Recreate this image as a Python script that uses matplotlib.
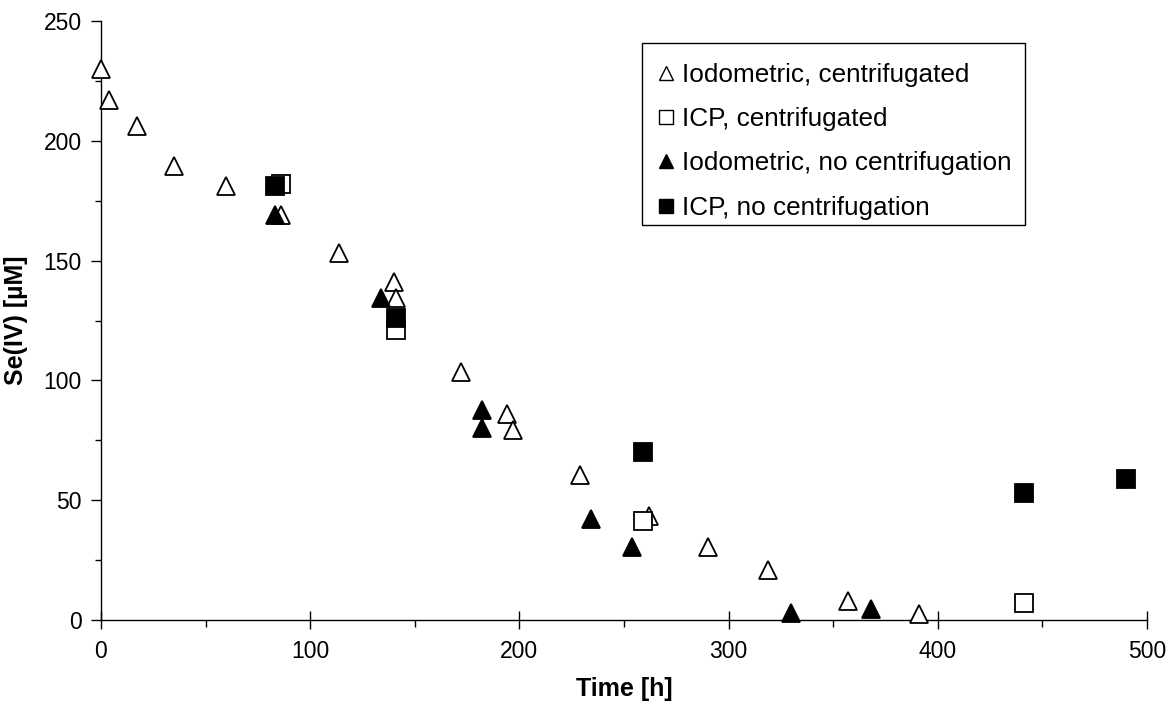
import matplotlib.pyplot as plt
from matplotlib.lines import Line2D
from matplotlib.patches import Rectangle
from matplotlib.ticker import MultipleLocator

plt.rcParams['font.family'] = ['Liberation Sans', 'DejaVu Sans']

# Iodometric, centrifugated
iod_c_t = [0, 4, 17, 35, 60, 86, 114, 140, 141, 172, 194, 197, 229, 262, 290, 319, 357, 391]
iod_c_y = [230, 217, 206, 189.5, 181, 169, 153, 141, 134.5, 103.5, 86, 79.5, 60.5, 43.5, 30.5, 21, 8, 2.5]

# ICP, centrifugated
icp_c_t = [86, 141, 259, 441]
icp_c_y = [182, 121, 41.5, 7]

# Iodometric, no centrifugation
iod_n_t = [83, 134, 182, 182, 234, 254, 330, 368]
iod_n_y = [169, 134.5, 87.5, 80, 42, 30.5, 3, 4.5]

# ICP, no centrifugation
icp_n_t = [83, 141, 259, 441, 490]
icp_n_y = [181, 126, 70, 53, 59]

labels = ["Iodometric, centrifugated", "ICP, centrifugated",
          "Iodometric, no centrifugation", "ICP, no centrifugation"]

fig = plt.figure(figsize=(11.66, 7.09), dpi=100)
ax = fig.add_axes([0.0866, 0.1255, 0.8971, 0.8449])

kw = dict(ls='none', ms=12.5, mec='black', mew=1.3, clip_on=False)
ax.plot(iod_c_t, iod_c_y, marker='^', mfc='white', **kw)
ax.plot(icp_c_t, icp_c_y, marker='s', mfc='white', **kw)
ax.plot(iod_n_t, iod_n_y, marker='^', mfc='black', **kw)
ax.plot(icp_n_t, icp_n_y, marker='s', mfc='black', **kw)

ax.set_xlim(0, 500)
ax.set_ylim(0, 250)
ax.xaxis.set_major_locator(MultipleLocator(100))
ax.xaxis.set_minor_locator(MultipleLocator(50))
ax.yaxis.set_major_locator(MultipleLocator(50))
ax.yaxis.set_minor_locator(MultipleLocator(25))

for s in ['top', 'right']:
    ax.spines[s].set_visible(False)
for s in ['left', 'bottom']:
    ax.spines[s].set_linewidth(1.0)
    ax.spines[s].set_color('black')
    ax.spines[s].set_zorder(0)

ax.tick_params(axis='x', which='major', direction='inout', length=13, width=1, labelsize=16.5, pad=8)
ax.tick_params(axis='x', which='minor', direction='out', length=5, width=1)
ax.tick_params(axis='y', which='major', direction='out', length=7, width=1, labelsize=16.5, pad=7)
ax.tick_params(axis='y', which='minor', direction='out', length=4, width=1)

ax.set_xlabel("Time [h]", fontsize=18, fontweight='bold', labelpad=10)
ax.set_ylabel("Se(IV) [µM]", fontsize=18, fontweight='bold')
ax.yaxis.set_label_coords(-0.0698, 0.5)

hk = dict(ls='none', ms=9.5, mec='black', mew=1.0)
handles = [
    Line2D([], [], marker='^', mfc='white', **hk),
    Line2D([], [], marker='s', mfc='white', **hk),
    Line2D([], [], marker='^', mfc='black', **hk),
    Line2D([], [], marker='s', mfc='black', **hk),
]
leg = ax.legend(handles, labels, loc='upper left', bbox_to_anchor=(0.513, 0.963),
                borderaxespad=0, fontsize=18.8, frameon=False,
                handlelength=0.7, handletextpad=0.25,
                labelspacing=0.78, borderpad=0.75)

# legend frame
ax.add_patch(Rectangle((0.517, 0.6594), 0.3664, 0.3039, transform=ax.transAxes,
                       fill=False, edgecolor='black', linewidth=1.0, clip_on=False))

fig.savefig("out.png", dpi=100)
